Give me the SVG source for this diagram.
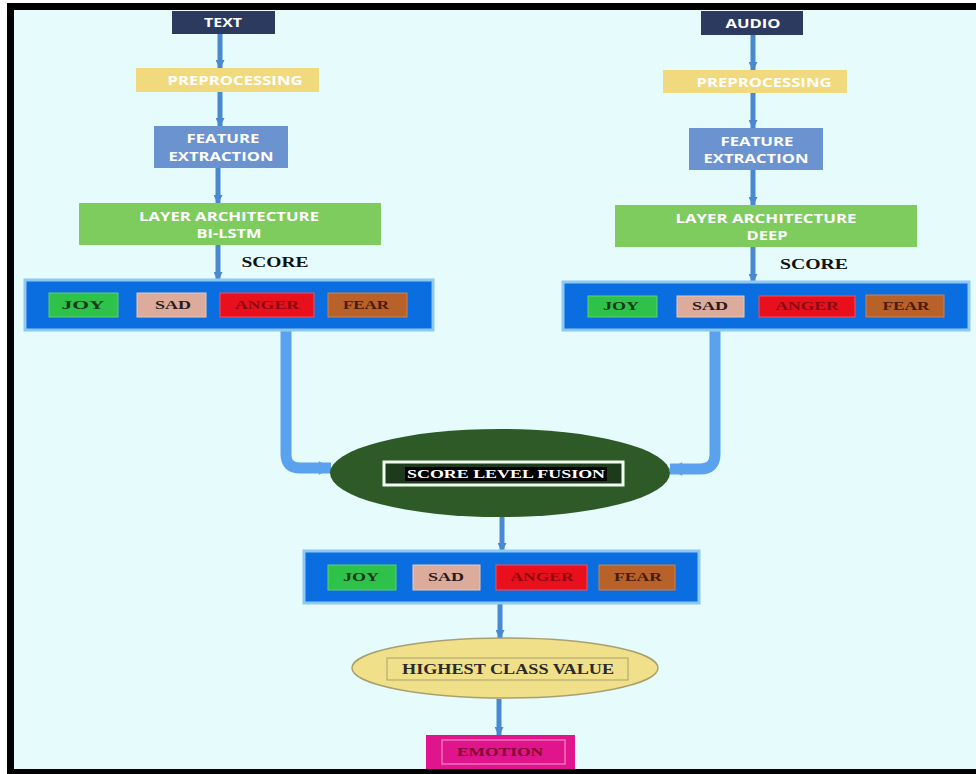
<svg xmlns="http://www.w3.org/2000/svg" width="976" height="774" viewBox="0 0 976 774">
<defs>
<marker id="ah" viewBox="0 0 10 10" refX="9" refY="5" markerWidth="12" markerHeight="9" markerUnits="userSpaceOnUse" orient="auto">
<path d="M0,0 L10,5 L0,10 z" fill="#4a88d0"/>
</marker>
<marker id="bh" viewBox="0 0 10 10" refX="9" refY="5" markerWidth="14" markerHeight="18" markerUnits="userSpaceOnUse" orient="auto">
<path d="M0,0 L10,5 L0,10 L2,5 z" fill="#5aa2ee"/>
</marker>
<style>
.sans{font-family:"Open Sans","Liberation Sans",sans-serif;font-weight:bold;fill:#ffffff;text-anchor:middle}
.serif{font-family:"Liberation Serif","DejaVu Serif",serif;font-weight:bold;text-anchor:middle}
.thin{stroke:#4a88d0;stroke-width:5;fill:none;marker-end:url(#ah)}
.big{stroke:#5aa2ee;stroke-width:11;fill:none;marker-end:url(#bh)}
.panel{fill:#0a6ee0;stroke:#8ec8f5;stroke-width:3}
.joy{fill:#2ec24a;stroke:#5fd070;stroke-width:1}
.sad{fill:#dcab9b;stroke:#e8c8bc;stroke-width:1}
.anger{fill:#e8101c;stroke:#f05060;stroke-width:1}
.fear{fill:#b8622a;stroke:#c88050;stroke-width:1}
</style>
</defs>
<rect x="0" y="0" width="976" height="774" fill="#ffffff"/>
<rect x="7" y="3" width="980" height="780" fill="#000000"/>
<rect x="14" y="10" width="962" height="759" fill="#e6fbfb"/>

<g id="connectors">
<line class="thin" x1="220" y1="34" x2="220" y2="68"/>
<line class="thin" x1="220" y1="92" x2="220" y2="126"/>
<line class="thin" x1="218" y1="168" x2="218" y2="203"/>
<line class="thin" x1="218" y1="245" x2="218" y2="280"/>
<line class="thin" x1="753" y1="35" x2="753" y2="70"/>
<line class="thin" x1="753" y1="93" x2="753" y2="128"/>
<line class="thin" x1="753" y1="170" x2="753" y2="205"/>
<line class="thin" x1="753" y1="247" x2="753" y2="282"/>
<path class="big" d="M286,330 L286,454 Q286,468 300,468 L331,468"/>
<path class="big" d="M715,330 L715,454 Q715,469 700,469 L670,469"/>
<line class="thin" x1="502" y1="517" x2="502" y2="551"/>
<line class="thin" x1="500" y1="603" x2="500" y2="638"/>
<line class="thin" x1="499" y1="699" x2="499" y2="735"/>
</g>

<g id="text-input">
<rect x="172" y="11" width="103" height="23" fill="#2b3a5e"/>
<text class="sans" x="223" y="27" font-size="11.5" textLength="38" lengthAdjust="spacingAndGlyphs">TEXT</text>
</g>
<g id="audio-input">
<rect x="701" y="11" width="102" height="24" fill="#2b3a5e"/>
<text class="sans" x="753" y="28" font-size="11.5" textLength="55" lengthAdjust="spacingAndGlyphs">AUDIO</text>
</g>
<g id="text-preprocessing">
<rect x="136" y="68" width="183" height="24" fill="#f1da7e"/>
<text class="sans" x="235" y="85" font-size="11.5" textLength="135" lengthAdjust="spacingAndGlyphs" fill="#fbf3d0">PREPROCESSING</text>
</g>
<g id="audio-preprocessing">
<rect x="663" y="70" width="184" height="23" fill="#f1da7e"/>
<text class="sans" x="764" y="87" font-size="11.5" textLength="135" lengthAdjust="spacingAndGlyphs">PREPROCESSING</text>
</g>
<g id="text-feature">
<rect x="154" y="126" width="134" height="42" fill="#6b93d0"/>
<text class="sans" x="223" y="143" font-size="11.5" textLength="73" lengthAdjust="spacingAndGlyphs">FEATURE</text>
<text class="sans" x="221" y="161" font-size="11.5" textLength="105" lengthAdjust="spacingAndGlyphs">EXTRACTION</text>
</g>
<g id="audio-feature">
<rect x="689" y="128" width="134" height="42" fill="#6b93d0"/>
<text class="sans" x="757" y="146" font-size="11.5" textLength="73" lengthAdjust="spacingAndGlyphs">FEATURE</text>
<text class="sans" x="756" y="163" font-size="11.5" textLength="105" lengthAdjust="spacingAndGlyphs">EXTRACTION</text>
</g>
<g id="text-layer">
<rect x="79" y="203" width="302" height="42" fill="#7ecb5e"/>
<text class="sans" x="229" y="221" font-size="11.5" textLength="180" lengthAdjust="spacingAndGlyphs">LAYER ARCHITECTURE</text>
<text class="sans" x="229" y="238" font-size="11.5" textLength="65" lengthAdjust="spacingAndGlyphs">BI-LSTM</text>
</g>
<g id="audio-layer">
<rect x="615" y="205" width="302" height="42" fill="#7ecb5e"/>
<text class="sans" x="766" y="223" font-size="11.5" textLength="181" lengthAdjust="spacingAndGlyphs">LAYER ARCHITECTURE</text>
<text class="sans" x="767" y="240" font-size="11.5" textLength="41" lengthAdjust="spacingAndGlyphs">DEEP</text>
</g>
<g id="score-labels">
<text class="serif" x="275" y="267" font-size="15" textLength="67" lengthAdjust="spacingAndGlyphs" fill="#111111">SCORE</text>
<text class="serif" x="814" y="269" font-size="15" textLength="68" lengthAdjust="spacingAndGlyphs" fill="#111111">SCORE</text>
</g>
<g id="text-scores">
<rect class="panel" x="25" y="280" width="408" height="50"/>
<rect class="joy" x="49" y="293" width="69" height="24"/>
<rect class="sad" x="137" y="293" width="69" height="24"/>
<rect class="anger" x="220" y="293" width="94" height="24"/>
<rect class="fear" x="328" y="293" width="79" height="24"/>
<text class="serif" x="83" y="309" font-size="13" textLength="43" lengthAdjust="spacingAndGlyphs" fill="#1a3a1a">JOY</text>
<text class="serif" x="173" y="309" font-size="13" textLength="36" lengthAdjust="spacingAndGlyphs" fill="#2a1a1a">SAD</text>
<text class="serif" x="267" y="309" font-size="13" textLength="64" lengthAdjust="spacingAndGlyphs" fill="#8b0a10">ANGER</text>
<text class="serif" x="366" y="309" font-size="13" textLength="46" lengthAdjust="spacingAndGlyphs" fill="#4a1a0a">FEAR</text>
</g>
<g id="audio-scores">
<rect class="panel" x="563" y="282" width="406" height="48"/>
<rect class="joy" x="588" y="296" width="69" height="21"/>
<rect class="sad" x="677" y="296" width="67" height="21"/>
<rect class="anger" x="759" y="296" width="96" height="21"/>
<rect class="fear" x="866" y="295" width="78" height="22"/>
<text class="serif" x="621" y="310" font-size="13" textLength="36" lengthAdjust="spacingAndGlyphs" fill="#1a3a1a">JOY</text>
<text class="serif" x="710" y="310" font-size="13" textLength="36" lengthAdjust="spacingAndGlyphs" fill="#2a1a1a">SAD</text>
<text class="serif" x="807" y="310" font-size="13" textLength="63" lengthAdjust="spacingAndGlyphs" fill="#8b0a10">ANGER</text>
<text class="serif" x="906" y="310" font-size="13" textLength="47" lengthAdjust="spacingAndGlyphs" fill="#4a1a0a">FEAR</text>
</g>
<g id="fusion">
<ellipse cx="500" cy="473" rx="170" ry="44" fill="#2d5a27"/>
<rect x="384" y="462" width="239" height="23" fill="#1e3a1c" stroke="#f0fff0" stroke-width="3"/>
<rect x="405" y="467" width="202" height="14" fill="#000000"/>
<text class="serif" x="506" y="478" font-size="13" textLength="198" lengthAdjust="spacingAndGlyphs" fill="#ffffff">SCORE LEVEL FUSION</text>
</g>
<g id="fused-scores">
<rect class="panel" x="304" y="551" width="395" height="52"/>
<rect class="joy" x="328" y="565" width="68" height="25"/>
<rect class="sad" x="413" y="565" width="67" height="25"/>
<rect class="anger" x="496" y="565" width="91" height="25"/>
<rect class="fear" x="599" y="565" width="76" height="25"/>
<text class="serif" x="361" y="581" font-size="13" textLength="36" lengthAdjust="spacingAndGlyphs" fill="#1a3a1a">JOY</text>
<text class="serif" x="446" y="581" font-size="13" textLength="36" lengthAdjust="spacingAndGlyphs" fill="#2a1a1a">SAD</text>
<text class="serif" x="542" y="581" font-size="13" textLength="63" lengthAdjust="spacingAndGlyphs" fill="#8b0a10">ANGER</text>
<text class="serif" x="638" y="581" font-size="13" textLength="48" lengthAdjust="spacingAndGlyphs" fill="#4a1a0a">FEAR</text>
</g>
<g id="highest-class">
<ellipse cx="505" cy="668" rx="153" ry="30" fill="#f0e08a" stroke="#a8a070" stroke-width="1.5"/>
<rect x="387" y="658" width="241" height="22" fill="none" stroke="#a8a070" stroke-width="1"/>
<text class="serif" x="508" y="674" font-size="14" textLength="212" lengthAdjust="spacingAndGlyphs" fill="#2a2a2a">HIGHEST CLASS VALUE</text>
</g>
<g id="emotion">
<rect x="426" y="735" width="149" height="34" fill="#e0148c"/>
<rect x="442" y="740" width="123" height="24" fill="none" stroke="#f070b8" stroke-width="1.5"/>
<text class="serif" x="500" y="756" font-size="13" textLength="86" lengthAdjust="spacingAndGlyphs" fill="#7a0a30">EMOTION</text>
</g>
</svg>
